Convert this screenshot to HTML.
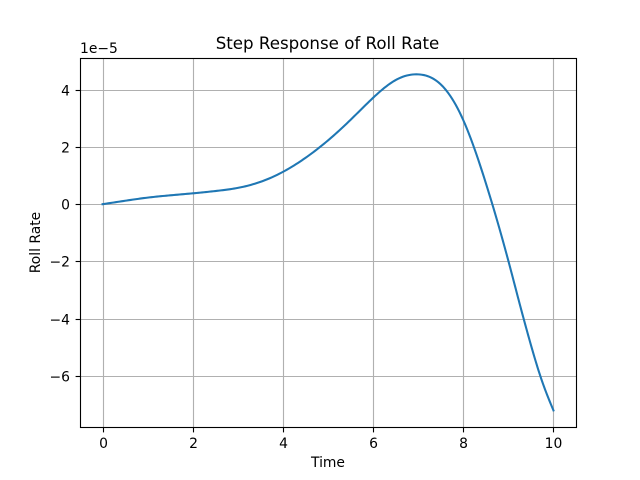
<!DOCTYPE html>
<html>
<head>
<meta charset="utf-8">
<style>
html,body{margin:0;padding:0;background:#fff;width:640px;height:480px;overflow:hidden}
svg{display:block}
text{font-family:"DejaVu Sans",sans-serif;fill:#000}
</style>
</head>
<body>
<svg id="chart" xmlns="http://www.w3.org/2000/svg" width="640" height="480" viewBox="0 0 640 480">
  <rect x="0" y="0" width="640" height="480" fill="#fff"/>
  <g id="grid"></g>
  <path id="line" fill="none" stroke="#1f77b4" stroke-width="2.08" stroke-linejoin="round" stroke-linecap="square"/>
  <rect x="80.5" y="58.5" width="496" height="369" fill="none" stroke="#000" stroke-width="1.11"/>
  <g id="ticks"></g>
  <text x="327.5" y="49" font-size="16.67" text-anchor="middle">Step Response of Roll Rate</text>
  <text x="328" y="467" font-size="13.89" text-anchor="middle">Time</text>
  <text x="40" y="242.5" font-size="13.89" text-anchor="middle" transform="rotate(-90 40 242.5)">Roll Rate</text>
  <text x="80" y="53" font-size="13.89">1e−5</text>
</svg>
<script>
const times = [0,0.5,1,1.5,2,2.5,3,3.5,4,4.5,5,5.5,6,6.5,7,7.5,8,8.5,9,9.25,9.5,9.75,10];
const rollRate = [0,0.12,0.23,0.31,0.38,0.46,0.57,0.78,1.13,1.62,2.23,2.95,3.72,4.34,4.54,4.19,2.94,0.74,-1.98,-3.48,-4.92,-6.2,-7.21];
const xTicks = [0,2,4,6,8,10];
const yTicks = [-6,-4,-2,0,2,4];

const NS = 'http://www.w3.org/2000/svg';
const xScale = v => 102.55 + v * 45.09;
const yScale = v => 204.2 - v * 28.6;
const snap = p => Math.floor(p + 0.5) + 0.5;
const gridG = document.getElementById('grid');
const tickG = document.getElementById('ticks');

function addLine(parent, x1, y1, x2, y2, color, w) {
  const l = document.createElementNS(NS, 'line');
  l.setAttribute('x1', x1);
  l.setAttribute('y1', y1);
  l.setAttribute('x2', x2);
  l.setAttribute('y2', y2);
  l.setAttribute('stroke', color);
  l.setAttribute('stroke-width', w);
  parent.appendChild(l);
  return l;
}
function addLabel(x, y, anchor, str) {
  const t = document.createElementNS(NS, 'text');
  t.setAttribute('x', x);
  t.setAttribute('y', y);
  t.setAttribute('font-size', '13.89');
  t.setAttribute('text-anchor', anchor);
  t.textContent = str;
  tickG.appendChild(t);
  return t;
}
xTicks.forEach(v => {
  const x = snap(xScale(v));
  const g = addLine(gridG, x, 58.5, x, 427.5, '#b0b0b0', 1.11);
  
  
  const k = addLine(tickG, x, 427.5, x, 432.4, '#000', 1.11);
  
  
  const t = addLabel(x, 448, 'middle', String(v));
  
  
});
yTicks.forEach(v => {
  const y = snap(yScale(v));
  const g = addLine(gridG, 80.5, y, 576.5, y, '#b0b0b0', 1.11);
  
  
  const k = addLine(tickG, 75.6, y, 80.5, y, '#000', 1.11);
  
  
  const t = addLabel(70, y + 5, 'end', String(v).replace('-', '\u2212'));
  
  
});

/* Natural cubic spline through the sampled values (C2 smooth) */
function splineSecondDerivs(xs, ys) {
  const n = xs.length, m = new Array(n).fill(0), u = new Array(n).fill(0);
  for (let i = 1; i < n - 1; i++) {
    const sig = (xs[i] - xs[i - 1]) / (xs[i + 1] - xs[i - 1]);
    const p = sig * m[i - 1] + 2;
    m[i] = (sig - 1) / p;
    const dd = (ys[i + 1] - ys[i]) / (xs[i + 1] - xs[i]) - (ys[i] - ys[i - 1]) / (xs[i] - xs[i - 1]);
    u[i] = (6 * dd / (xs[i + 1] - xs[i - 1]) - sig * u[i - 1]) / p;
  }
  for (let i = n - 2; i >= 0; i--) m[i] = m[i] * m[i + 1] + u[i];
  return m;
}
const m2 = splineSecondDerivs(times, rollRate);
let d = '';
for (let i = 0; i < times.length - 1; i++) {
  const h = times[i + 1] - times[i];
  const steps = 12;
  for (let s = (i === 0 ? 0 : 1); s <= steps; s++) {
    const b = s / steps, a = 1 - b;
    const t = times[i] + b * h;
    const v = a * rollRate[i] + b * rollRate[i + 1] + ((a * a * a - a) * m2[i] + (b * b * b - b) * m2[i + 1]) * h * h / 6;
    d += (d ? 'L' : 'M') + xScale(t).toFixed(2) + ' ' + yScale(v).toFixed(2);
  }
}
document.getElementById('line').setAttribute('d', d);
</script>
</body>
</html>
